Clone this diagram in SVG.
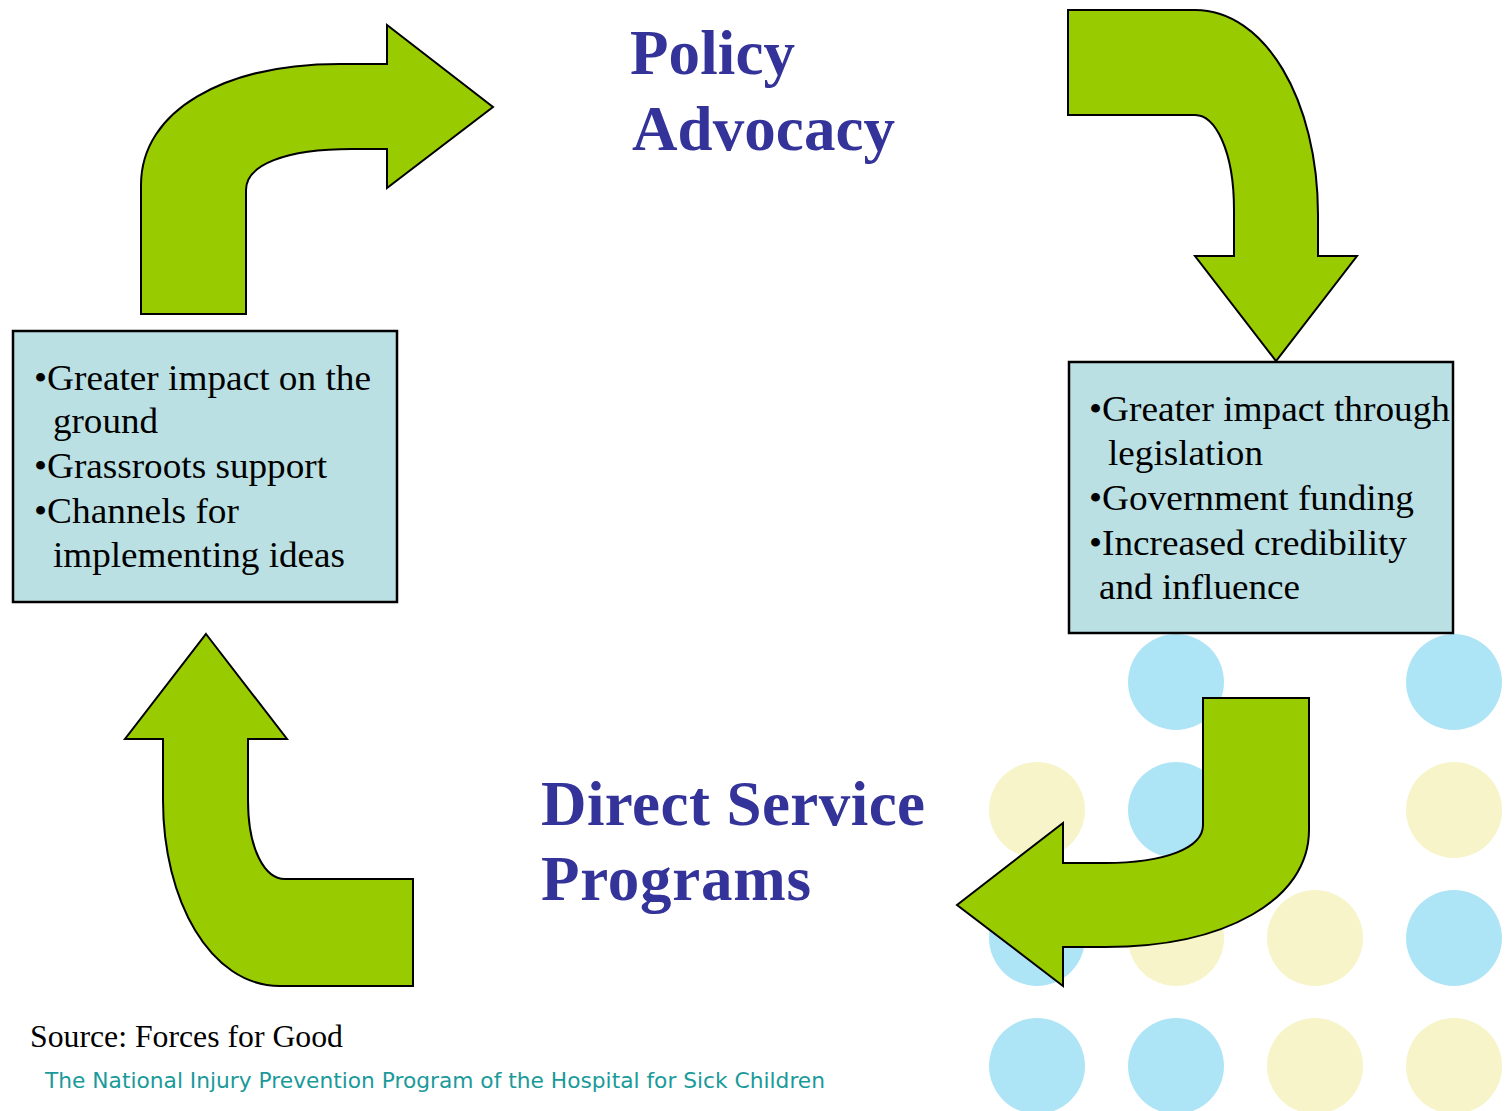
<svg xmlns="http://www.w3.org/2000/svg" width="1511" height="1111" viewBox="0 0 1511 1111">
<style>
.arrow{fill:#99CC00;stroke:#000;stroke-width:2;stroke-linejoin:miter}
.box{fill:#BAE0E3;stroke:#000;stroke-width:2.5}
.bt{font-family:"Liberation Serif","Times New Roman",serif;font-size:35.5px;fill:#000}
.title{font-family:"Liberation Serif","Times New Roman",serif;font-size:63px;font-weight:bold;fill:#333399}
.blue{fill:#ADE5F7}
.yel{fill:#F6F4C8}
</style>
<rect width="1511" height="1111" fill="#fff"/>
<g id="dots">
<circle class="blue" cx="1176" cy="682" r="48"/>
<circle class="blue" cx="1454" cy="682" r="48"/>
<circle class="yel" cx="1037" cy="810" r="48"/>
<circle class="blue" cx="1176" cy="810" r="48"/>
<circle class="yel" cx="1454" cy="810" r="48"/>
<circle class="blue" cx="1037" cy="938" r="48"/>
<circle class="yel" cx="1176" cy="938" r="48"/>
<circle class="yel" cx="1315" cy="938" r="48"/>
<circle class="blue" cx="1454" cy="938" r="48"/>
<circle class="blue" cx="1037" cy="1066" r="48"/>
<circle class="blue" cx="1176" cy="1066" r="48"/>
<circle class="yel" cx="1315" cy="1066" r="48"/>
<circle class="yel" cx="1454" cy="1066" r="48"/>
</g>
<g id="connectors">
<path id="arrow-top-left" class="arrow" d="M141,314 L141,185 C141,110 225,64 340,64 L387,64 L387,25 L493,107 L387,188 L387,149 L352,149 C285,149 246,165 246,190 L246,314 Z"/>
<path id="arrow-top-right" class="arrow" d="M1068,10 L1195,10 C1265,10 1318,100 1318,215 L1318,256 L1357,256 L1276,361 L1195,256 L1234,256 L1234,210 C1234,150 1215,115 1195,115 L1068,115 Z"/>
<path id="arrow-bottom-right" class="arrow" d="M1203,698 L1309,698 L1309,830 C1309,900 1225,947 1105,947 L1063,947 L1063,986 L957,905 L1063,823 L1063,863 L1105,863 C1165,863 1203,848 1203,825 Z"/>
<path id="arrow-bottom-left" class="arrow" d="M206,634 L287,739 L248,739 L248,800 C248,850 265,879 285,879 L413,879 L413,986 L280,986 C210,986 163,900 163,800 L163,739 L125,739 Z"/>
</g>
<g id="node-policy">
<text class="title" x="630" y="74" textLength="165">Policy</text>
<text class="title" x="632" y="150" textLength="263">Advocacy</text>
</g>
<g id="node-direct">
<text class="title" x="541" y="825" textLength="384">Direct Service</text>
<text class="title" x="541" y="900" textLength="270">Programs</text>
</g>
<g id="node-box-left">
<rect class="box" x="13" y="331" width="384" height="271"/>
<text class="bt" x="34" y="390" textLength="337" lengthAdjust="spacingAndGlyphs">•Greater impact on the</text>
<text class="bt" x="53" y="433" textLength="105" lengthAdjust="spacingAndGlyphs">ground</text>
<text class="bt" x="34" y="478" textLength="293" lengthAdjust="spacingAndGlyphs">•Grassroots support</text>
<text class="bt" x="34" y="523" textLength="205" lengthAdjust="spacingAndGlyphs">•Channels for</text>
<text class="bt" x="53" y="567" textLength="292" lengthAdjust="spacingAndGlyphs">implementing ideas</text>
</g>
<g id="node-box-right">
<rect class="box" x="1069" y="362" width="384" height="271"/>
<text class="bt" x="1089" y="421" textLength="361" lengthAdjust="spacingAndGlyphs">•Greater impact through</text>
<text class="bt" x="1108" y="465" textLength="155" lengthAdjust="spacingAndGlyphs">legislation</text>
<text class="bt" x="1089" y="510" textLength="325" lengthAdjust="spacingAndGlyphs">•Government funding</text>
<text class="bt" x="1089" y="555" textLength="318" lengthAdjust="spacingAndGlyphs">•Increased credibility</text>
<text class="bt" x="1099" y="599" textLength="201" lengthAdjust="spacingAndGlyphs">and influence</text>
</g>
<g id="footer">
<text x="30" y="1047" font-family="Liberation Serif,serif" font-size="31" fill="#000" textLength="313" lengthAdjust="spacingAndGlyphs">Source: Forces for Good</text>
<text x="45" y="1088" font-family="DejaVu Sans,sans-serif" font-size="21" fill="#1A9A9A" textLength="780" lengthAdjust="spacingAndGlyphs">The National Injury Prevention Program of the Hospital for Sick Children</text>
</g>
</svg>
